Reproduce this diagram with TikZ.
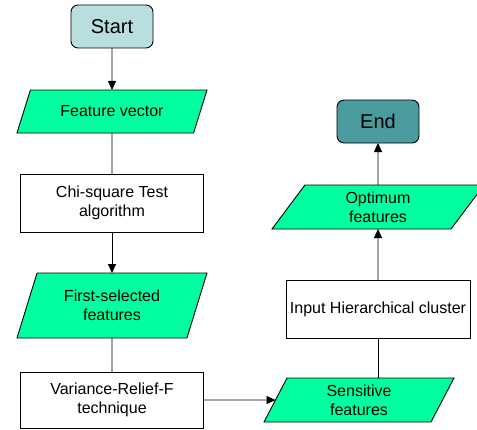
\documentclass[tikz,border=0pt]{standalone}
\usepackage{fontspec}
\setmainfont{Liberation Sans}
\usepackage{xcolor}
\usetikzlibrary{arrows.meta,positioning,shapes.geometric}

\definecolor{startfill}{HTML}{B9DEDE}
\definecolor{endfill}{HTML}{4A9B9E}
\definecolor{datafill}{HTML}{00FFA0}

\begin{document}
\begin{tikzpicture}[x=1pt, y=-1pt, node distance=41pt, line width=0.9pt,
  >={Triangle[width=8pt,length=9pt]}]
\tikzstyle{every node} = [font=\fontsize{16}{19}\selectfont, align=center, inner sep=2pt, outer sep=0pt]
\tikzstyle{term} = [draw, rounded corners=7pt, minimum width=82pt, minimum height=43pt, font=\fontsize{20}{24}\selectfont]
\tikzstyle{proc} = [draw, fill=white, minimum width=183pt, minimum height=58pt]
\tikzstyle{io} = [draw, fill=datafill, trapezium, trapezium stretches body, minimum height=44pt]
\useasboundingbox (0,0) rectangle (477,430);
% left column
\node [term, fill=startfill] (start) at (112,26.5) {Start};
\node [io, minimum width=190pt, minimum height=43pt, trapezium left angle=48.5, trapezium right angle=131.5] (fv) [below=42pt of start] {Feature vector};
\node [proc] (chi) [below=of fv] {Chi-square Test\\algorithm};
\node [io, minimum width=190pt, minimum height=65pt, trapezium left angle=60, trapezium right angle=120] (first) [below=of chi] {First-selected\\features};
\node [proc, minimum height=56pt] (var) [below=34pt of first] {Variance-Relief-F\\technique};
% right column
\node [io, minimum width=190pt, trapezium left angle=56.5, trapezium right angle=123.5] (sens) [right=72pt of var] {Sensitive\\features};
\node [proc, minimum width=184pt] (hier) [above=40pt of sens, xshift=19pt] {Input Hierarchical cluster};
\node [io, minimum width=212pt, trapezium left angle=46.5, trapezium right angle=133.5] (opt) [above=51pt of hier] {Optimum\\features};
\node [term, fill=endfill] (end) [above=42pt of opt] {End};
% connectors
\draw [->] (start) -- (fv);
\draw (fv) -- (chi);
\draw [->] (chi) -- (first);
\draw (first) -- (var);
\draw [->] (var) -- (sens);
\draw (hier.south) -- (hier.south |- sens.north);
\draw [->] (hier) -- (opt);
\draw [->] (opt) -- (end);
\end{tikzpicture}
\end{document}
